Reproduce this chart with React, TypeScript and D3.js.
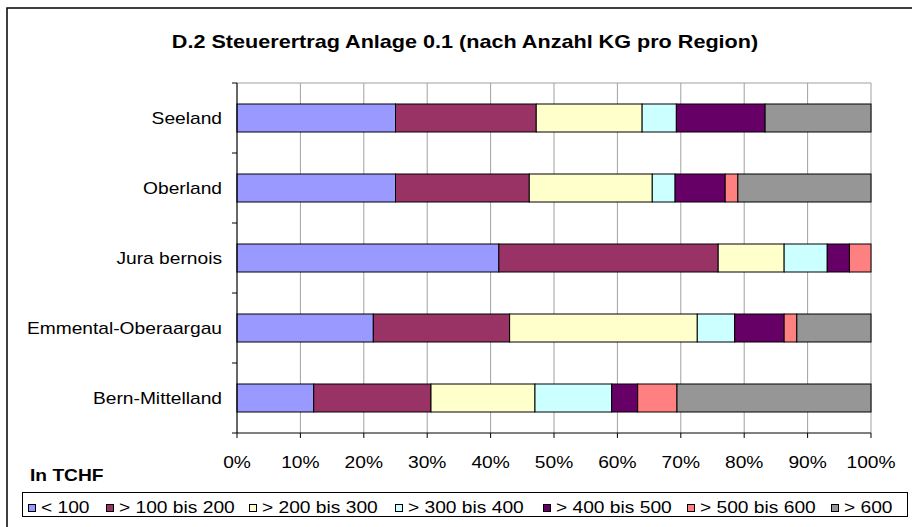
import * as d3 from 'd3';

// categories top to bottom
const categories = ['Seeland', 'Oberland', 'Jura bernois', 'Emmental-Oberaargau', 'Bern-Mittelland'];
const seriesNames = ['< 100', '> 100 bis 200', '> 200 bis 300', '> 300 bis 400', '> 400 bis 500', '> 500 bis 600', '> 600'];

// shares in %
const lt100 = [25.0, 25.0, 41.3, 21.5, 12.1];
const from100to200 = [22.2, 21.1, 34.6, 21.5, 18.5];
const from200to300 = [16.7, 19.4, 10.4, 29.6, 16.4];
const from300to400 = [5.4, 3.6, 6.8, 5.9, 12.1];
const from400to500 = [14.0, 7.9, 3.5, 7.8, 4.1];
const from500to600 = [0, 2.0, 3.4, 2.0, 6.2];
const gt600 = [16.7, 21.0, 0, 11.7, 30.6];

const xTicks = [0, 0.1, 0.2, 0.3, 0.4, 0.5, 0.6, 0.7, 0.8, 0.9, 1];

const colors = ['#9999FF', '#993366', '#FFFFCC', '#CCFFFF', '#660066', '#FF8080', '#969696'];
const legendX = [28, 106, 249, 395, 543, 687, 831];

const W = 912;
const H = 527;
const margin = { top: 83, right: 41, bottom: 94, left: 237 };
const SX = 1.2; // the picture is stretched horizontally
const FONT = '"Liberation Sans", Arial, sans-serif';

type TProps = { x: number; y: number; size: number; anchor?: string; bold?: boolean; children: string };

const SText = ({ x, y, size, anchor = 'start', bold = false, children }: TProps) => (
    <text
        transform={`translate(${x},${y}) scale(${SX},1)`}
        fontSize={size}
        fontWeight={bold ? 'bold' : 'normal'}
        textAnchor={anchor}
        fontFamily={FONT}
        fill="#000"
    >
        {children}
    </text>
);

export default function App() {
    const series = [lt100, from100to200, from200to300, from300to400, from400to500, from500to600, gt600];
    const rows = categories.map((c, i) => {
        const r: Record<string, any> = { cat: c };
        seriesNames.forEach((s, j) => (r[s] = series[j][i]));
        return r;
    });
    const stacked = d3.stack<any>().keys(seriesNames).offset(d3.stackOffsetExpand)(rows);

    const x = d3.scaleLinear().domain([0, 1]).range([margin.left, W - margin.right]);
    const y = d3.scaleBand().domain(categories).range([margin.top, H - margin.bottom]).padding(0);
    const barH = y.bandwidth() * 0.4;
    const x0 = x(0), x1 = x(1);
    const yTop = margin.top, yBot = H - margin.bottom;

    return (
        <svg width={W} height={H} style={{ position: 'absolute', left: 0, top: 0, background: '#fff' }}>
            <rect x={7} y={8} width={W} height={H} fill="#fff" stroke="#000" strokeWidth={1.5} />
            <SText x={465} y={48} size={18} anchor="middle" bold>
                D.2 Steuerertrag Anlage 0.1 (nach Anzahl KG pro Region)
            </SText>

            {/* grid */}
            {xTicks.map(t => (
                <line key={'g' + t} x1={x(t)} x2={x(t)} y1={yTop} y2={yBot} stroke="#A0A0A0" strokeWidth={1} />
            ))}
            <line x1={x0} x2={x1} y1={yTop} y2={yTop} stroke="#A0A0A0" />

            {/* bars */}
            {stacked.map((s, si) => (
                <g key={s.key} fill={colors[si]}>
                    {s.map((d, i) =>
                        d[1] - d[0] > 0 ? (
                            <rect
                                key={i}
                                x={x(d[0])}
                                y={(y(categories[i]) as number) + (y.bandwidth() - barH) / 2}
                                width={x(d[1]) - x(d[0])}
                                height={barH}
                                stroke="#000"
                                strokeWidth={1}
                            />
                        ) : null
                    )}
                </g>
            ))}

            {/* axes */}
            <line x1={x0} x2={x0} y1={yTop} y2={yBot} stroke="#000" />
            <line x1={x0} x2={x1} y1={yBot} y2={yBot} stroke="#000" />
            {categories.map(c => (
                <line key={'yt' + c} x1={x0 - 5} x2={x0} y1={(y(c) as number) + y.bandwidth()} y2={(y(c) as number) + y.bandwidth()} stroke="#000" />
            ))}
            <line x1={x0 - 5} x2={x0} y1={yTop} y2={yTop} stroke="#000" />
            {xTicks.map(t => (
                <line key={'xt' + t} x1={x(t)} x2={x(t)} y1={yBot} y2={yBot + 5} stroke="#000" />
            ))}
            {xTicks.map(t => (
                <SText key={'xl' + t} x={x(t)} y={yBot + 35} size={16} anchor="middle">
                    {d3.format('.0%')(t)}
                </SText>
            ))}
            {categories.map(c => (
                <SText key={'yl' + c} x={x0 - 15} y={(y(c) as number) + y.bandwidth() / 2 + 6} size={16} anchor="end">
                    {c}
                </SText>
            ))}

            {/* legend */}
            <SText x={30} y={481} size={16} bold>In TCHF</SText>
            <rect x={22.5} y={492.5} width={885} height={24} fill="#fff" stroke="#000" strokeWidth={1} />
            {seriesNames.map((s, i) => (
                <g key={'lg' + s}>
                    <rect x={legendX[i] + 0.5} y={504.5} width={7} height={7} fill={colors[i]} stroke="#000" />
                    <SText x={legendX[i] + 13} y={513} size={16}>{s}</SText>
                </g>
            ))}
        </svg>
    );
}
